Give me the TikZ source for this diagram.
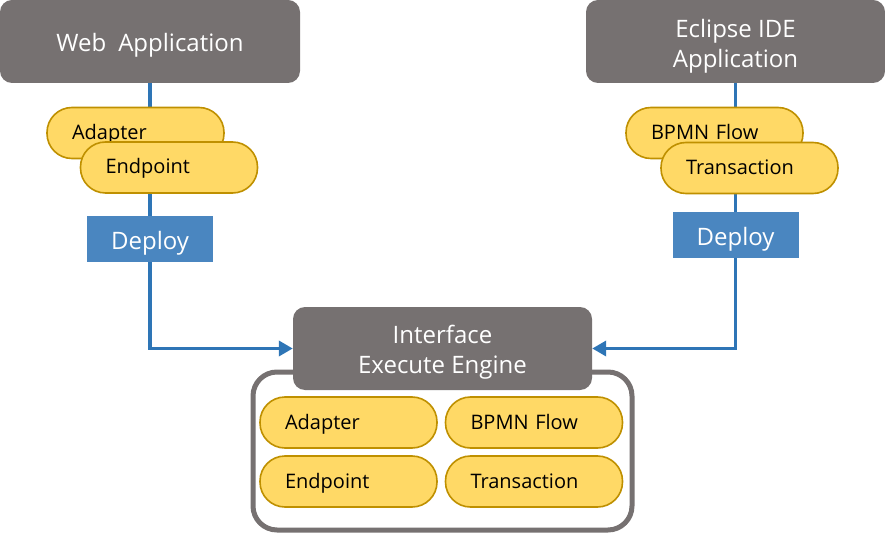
\documentclass[tikz,border=0pt]{standalone}
\usepackage{fontspec}
\setmainfont{Open Sans}
\usetikzlibrary{arrows.meta,backgrounds}
\definecolor{boxgrey}{HTML}{767171}
\definecolor{pillfill}{HTML}{FFD966}
\definecolor{pillline}{HTML}{BF9000}
\definecolor{linkblue}{HTML}{2E75B6}
\definecolor{deployblue}{HTML}{4A86C0}
\newcommand{\topstrut}{\rule{0pt}{26pt}}
\tikzset{
  appbox/.style={fill=boxgrey, rounded corners=12pt, text=white, align=center,
    font=\fontsize{24}{30}\selectfont, inner sep=0pt},
  onebox/.style={appbox, text height=22pt, text depth=1pt},
  pill/.style={fill=pillfill, draw=pillline, line width=1.6pt, rounded corners=25pt,
    minimum height=51pt, inner xsep=25pt, inner ysep=0pt, text width=127pt, align=left,
    font=\fontsize{20}{24}\selectfont, text height=15pt, text depth=2pt},
  deploybox/.style={fill=deployblue, text=white, minimum width=126pt, minimum height=46pt,
    inner sep=0pt, font=\fontsize{24}{28}\selectfont, text height=23pt, text depth=1pt},
  container/.style={draw=boxgrey, line width=5pt, rounded corners=24pt, fill=white, inner sep=0pt},
  conn/.style={draw=linkblue, line width=3.8pt, -{Triangle[length=14pt,width=15pt]}},
}
\begin{document}
\begin{tikzpicture}[x=1pt,y=-1pt]
\useasboundingbox (0,0) rectangle (885,534);
% top boxes
\node[onebox, minimum width=300pt, minimum height=83pt] (web) at (150,41.5) {Web\,\,\,Application};
\node[appbox, minimum width=299pt, minimum height=83pt] (eclipse) at (735.5,41.5) {\rule{0pt}{27pt}Eclipse IDE\\Application};
% left pills
\node[pill] (ladapter) at (135.5,133) {Adapter};
\node[pill] (lendpoint) at (169,167.5) {Endpoint};
\node[deploybox] (ldeploy) at (150,239) {Deploy};
% right pills
\node[pill] (rbpmn) at (714.5,133) {BPMN Flow};
\node[pill] (rtrans) at (749.5,168) {Transaction};
\node[deploybox] (rdeploy) at (735.5,235) {Deploy};
% container and engine
\node[container, minimum width=379pt, minimum height=158pt] (cont) at (442.5,451) {};
\node[appbox, minimum width=299pt, minimum height=83pt] (engine) at (442.5,348.5) {\topstrut Interface\\Execute Engine};
% inner pills
\node[pill] (iadapter) at (348.5,422.5) {Adapter};
\node[pill] (ibpmn) at (534,422.5) {BPMN Flow};
\node[pill] (iendpoint) at (348.5,481.5) {Endpoint};
\node[pill] (itrans) at (534,481.5) {Transaction};
% connectors
\begin{scope}[on background layer]
\draw[conn] (web.south) |- (engine.west);
\draw[conn] (eclipse.south) |- (engine.east);
\end{scope}
\end{tikzpicture}
\end{document}
